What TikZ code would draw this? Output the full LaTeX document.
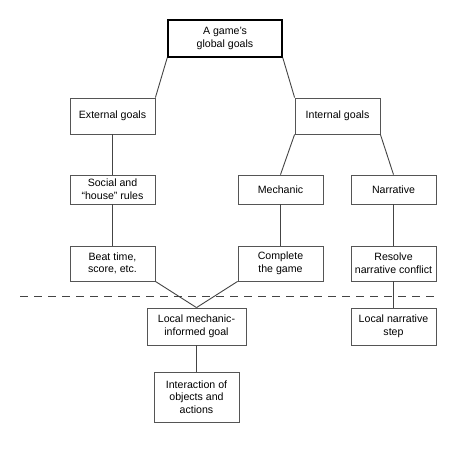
\documentclass[tikz,border=0pt]{standalone}
\usepackage{fontspec}
\setmainfont{Liberation Sans}
\definecolor{boxgray}{HTML}{555555}
\definecolor{linegray}{HTML}{444444}
\begin{document}
\begin{tikzpicture}[x=1pt,y=-1pt,
  box/.style={draw=boxgray,line width=0.8pt,rectangle,align=center,inner sep=2pt,
    font=\fontsize{10.6}{12.6}\selectfont,text=black},
  topbox/.style={box,draw=black,line width=1.6pt},
  link/.style={draw=linegray,line width=0.9pt}]
\useasboundingbox (0,0) rectangle (450,450);
\node[topbox,minimum width=114pt,minimum height=37pt] (top) at (225,38.5) {A game’s\\global goals};
\node[box,minimum width=85pt,minimum height=36pt] (ext) at (112.5,116) {External goals};
\node[box,minimum width=85pt,minimum height=36pt] (int) at (337.5,116) {Internal goals};
\node[box,minimum width=85pt,minimum height=29pt] (soc) at (112.5,189.5) {Social and\\“house” rules};
\node[box,minimum width=85pt,minimum height=29pt] (mech) at (280.5,189.5) {Mechanic};
\node[box,minimum width=85pt,minimum height=29pt] (narr) at (393.5,189.5) {Narrative};
\node[box,minimum width=85pt,minimum height=35pt] (beat) at (112.5,263.5) {Beat time,\\score, etc.};
\node[box,minimum width=85pt,minimum height=35pt] (comp) at (280.5,263.5) {Complete\\the game};
\node[box,minimum width=85pt,minimum height=35pt] (res) at (393.5,263.5) {Resolve\\narrative conflict};
\node[box,minimum width=99pt,minimum height=37pt] (lmech) at (196.5,326.5) {Local mechanic-\\informed goal};
\node[box,minimum width=85pt,minimum height=37pt] (lnarr) at (393.5,326.5) {Local narrative\\step};
\node[box,minimum width=85pt,minimum height=50pt] (inter) at (196.5,397) {Interaction of\\objects and\\actions};
\coordinate (dl) at (20,296);
\coordinate (dr) at (436,296);
\draw[link] (top.south west) -- (ext.north east);
\draw[link] (top.south east) -- (int.north west);
\draw[link] (ext.south) -- (soc.north);
\draw[link] (int.south west) -- (mech.north);
\draw[link] (int.south east) -- (narr.north);
\draw[link] (soc.south) -- (beat.north);
\draw[link] (mech.south) -- (comp.north);
\draw[link] (narr.south) -- (res.north);
\draw[link] (res.south) -- (lnarr.north);
\draw[link] (beat.south east) -- (lmech.north);
\draw[link] (comp.south west) -- (lmech.north);
\draw[link] (lmech.south) -- (inter.north);
\draw[draw=linegray,line width=0.9pt,dash pattern=on 8pt off 6pt] (dl) -- (dr);
\end{tikzpicture}
\end{document}
